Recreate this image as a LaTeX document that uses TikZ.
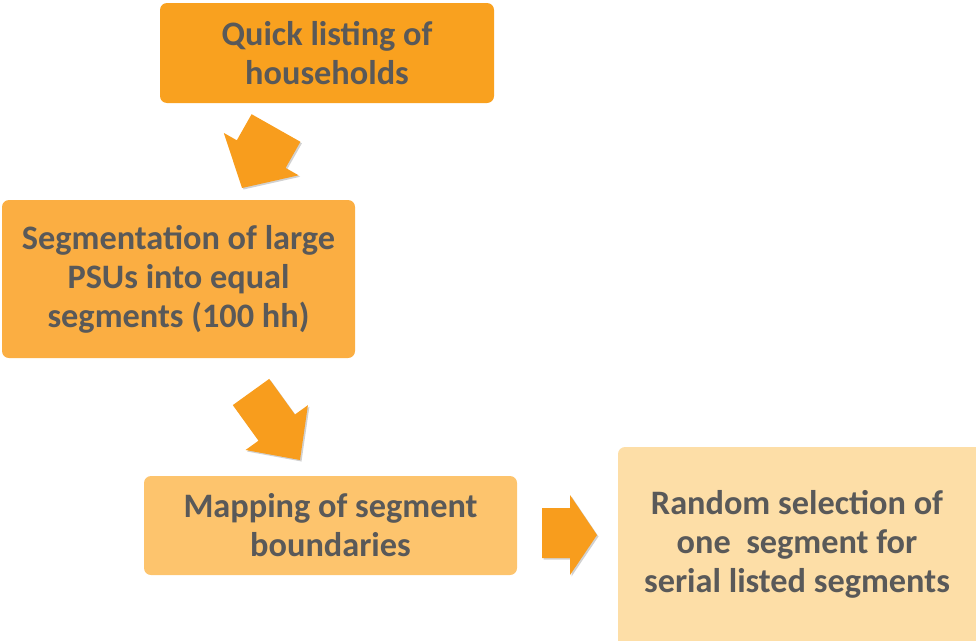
\documentclass[tikz,border=0pt]{standalone}
\usepackage{fontspec}
\setmainfont{Carlito}
\definecolor{txt}{HTML}{595959}
\definecolor{boxA}{HTML}{F9A11F}
\definecolor{boxB}{HTML}{FBAE42}
\definecolor{boxC}{HTML}{FDC46D}
\definecolor{boxD}{HTML}{FDDEA7}
\definecolor{arr}{HTML}{F89D1D}
\tikzset{
  stepbox/.style={rounded corners=7pt, inner sep=0pt, align=center,
    font=\fontsize{34.3}{39}\selectfont\bfseries, text=txt},
  blockarrow/.style={fill=arr, draw=none},
  arrowshadow/.style={fill=black, opacity=0.18, draw=none},
}
\begin{document}
\begin{tikzpicture}[x=1pt,y=-1pt]
\useasboundingbox (0,0) rectangle (976,640);
% boxes
\fill[boxA, rounded corners=7pt] (160,3) rectangle (494,103);
\node[stepbox] (quick) at (327,53) {Quick listing of\\households};
\fill[boxB, rounded corners=7pt] (2,200) rectangle (355,358);
\node[stepbox] (seg) at (178.5,279) {Segmentation of large\\PSUs into equal\\segments (100 hh)};
\fill[boxC, rounded corners=7pt] (144,476) rectangle (517,575);
\node[stepbox] (map) at (330.5,525.5) {Mapping of segment\\boundaries};
\fill[boxD, rounded corners=7pt] (618,447) rectangle (985,650);
\node[stepbox] (rand) at (797,544) {Random selection of\\one\ \ segment for\\serial listed segments};
% arrows
\foreach \s/\st in {1.5/arrowshadow,0/blockarrow}{
\fill[\st, shift={(\s,\s)}] (251.6,114.2) -- (300.4,141.8) -- (285.6,167.9) -- (298.6,175.3) -- (242,188) -- (223.8,132.9) -- (236.8,140.3) -- cycle;
\fill[\st, shift={(\s,\s)}] (269.2,378.9) -- (294.9,414.5) -- (307.9,405.2) -- (300,460) -- (245.5,450.0) -- (258.5,440.7) -- (232.8,405.1) -- cycle;
\fill[\st, shift={(\s,\s)}] (542,508) -- (570,508) -- (570,495) -- (597,535) -- (570,575) -- (570,558) -- (542,558) -- cycle;
}
\end{tikzpicture}
\end{document}
